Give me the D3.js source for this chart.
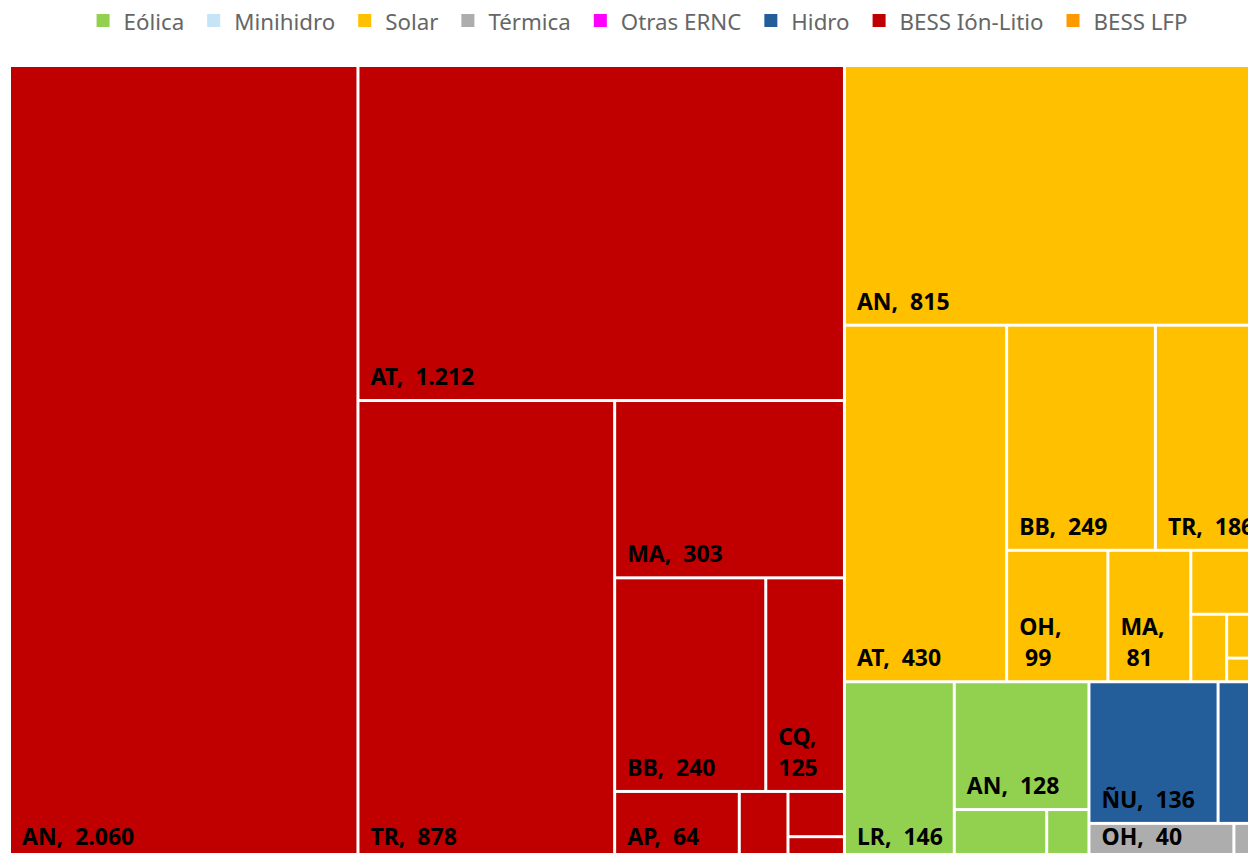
<!DOCTYPE html>
<html>
<head>
<meta charset="utf-8">
<script src="https://cdn.jsdelivr.net/npm/d3@7"></script>
<style>
  body { margin: 0; background: #fff; overflow: hidden; }
  svg { display: block; }
</style>
</head>
<body>
<svg id="chart" width="1248" height="853"></svg>
<script>
// legend: technologies and their colours
var technologies = ["Eólica", "Minihidro", "Solar", "Térmica", "Otras ERNC", "Hidro", "BESS Ión-Litio", "BESS LFP"];
var techColors = ["#92D050", "#C5E4F5", "#FFC000", "#ADADAD", "#FF00FF", "#235E9B", "#C00000", "#FF9900"];

// MW by region, one pair of arrays per technology
var ionRegions = ["AN", "AT", "TR", "MA", "BB", "CQ", "AP", "RM", "VA", "OH"];
var ionValues = [2060, 1212, 878, 303, 240, 125, 64, 25, 19, 10];
var solarRegions = ["AN", "AT", "BB", "TR", "OH", "MA", "RM", "CQ", "VA", "AP"];
var solarValues = [815, 430, 249, 186, 99, 81, 36, 18, 13, 7];
var eolicaRegions = ["LR", "AN", "BB", "AR"];
var eolicaValues = [146, 128, 35, 16];
var hidroRegions = ["ÑU", "BB"];
var hidroValues = [136, 51];
var termicaRegions = ["OH", "AN"];
var termicaValues = [40, 9];

var svg = d3.select("#chart");

var margins = { left: 11, top: 67 },
    width = 1254,
    height = 792;

var groups = [
    { name: "BESS Ión-Litio", regions: ionRegions, values: ionValues },
    { name: "Solar", regions: solarRegions, values: solarValues },
    { name: "Eólica", regions: eolicaRegions, values: eolicaValues },
    { name: "Hidro", regions: hidroRegions, values: hidroValues },
    { name: "Térmica", regions: termicaRegions, values: termicaValues }
];

var color = d3.scaleOrdinal().domain(technologies).range(techColors);
var fmt = d3.formatLocale({ decimal: ",", thousands: ".", grouping: [3], currency: ["$", ""] }).format(",d");

// squarified tiling that scores cells against a slightly tall target shape
var TALL = 1.291;
function tileTall(parent, x0, y0, x1, y1) {
    var nodes = parent.children, n = nodes.length, i0 = 0, value = parent.value;
    while (i0 < n) {
        var dx = x1 - x0, dy = y1 - y0;
        var across = dx <= dy;
        var i1 = i0, sum = 0, best = Infinity;
        while (i1 < n) {
            var s = sum + nodes[i1].value, worst = 0;
            for (var k = i0; k <= i1; k++) {
                var v = nodes[k].value, a;
                if (across) a = (dy * s / value) / (dx * v / s);
                else a = (dy * v / s) / (dx * s / value);
                worst = Math.max(worst, a / TALL, TALL / a);
            }
            if (worst > best) break;
            best = worst; sum = s; i1++;
        }
        var row = { value: sum, children: nodes.slice(i0, i1) };
        if (across) {
            var yk = y0 + dy * sum / value;
            d3.treemapDice(row, x0, y0, x1, yk);
            y0 = yk;
        } else {
            var xk = x0 + dx * sum / value;
            d3.treemapSlice(row, x0, y0, xk, y1);
            x0 = xk;
        }
        value -= sum;
        i0 = i1;
    }
}

var root = d3.hierarchy({
        children: groups.map(function(g) {
            return {
                name: g.name,
                children: g.regions.map(function(r, i) { return { name: r, value: g.values[i] }; })
            };
        })
    })
    .sum(function(d) { return d.value || 0; })
    .sort(function(a, b) { return b.value - a.value; });

d3.treemap()
    .tile(tileTall)
    .size([width, height])
    .paddingInner(3)(root);

var plot = svg.append("g")
    .attr("transform", "translate(" + margins.left + "," + margins.top + ")");

var cells = plot.selectAll("g.cell")
    .data(root.leaves())
    .enter()
    .append("g")
    .attr("class", "cell");

cells.append("rect")
    .attr("x", function(d) { return d.x0; })
    .attr("y", function(d) { return d.y0; })
    .attr("width", function(d) { return d.x1 - d.x0; })
    .attr("height", function(d) { return d.y1 - d.y0; })
    .attr("fill", function(d) { return color(d.parent.data.name); });

// labels at the bottom-left, wrapped on two lines when too narrow
var fontSize = 23, pad = 11, lineGap = 31, bottomGap = 14;
cells.each(function(d) {
    var g = d3.select(this),
        w = d.x1 - d.x0, h = d.y1 - d.y0;
    var label = g.append("text")
        .attr("x", d.x0 + pad)
        .attr("y", d.y1 - bottomGap)
        .style("font-family", "'Noto Sans', 'Open Sans', sans-serif")
        .style("font-weight", "bold")
        .style("font-size", fontSize + "px")
        .style("white-space", "pre")
        .attr("fill", "#000")
        .text(d.data.name + ",  " + fmt(d.value));
    if (label.node().getComputedTextLength() <= w - pad - 9 && h > 34) return;
    label.text(null);
    label.append("tspan").attr("x", d.x0 + pad).attr("dy", -lineGap).text(d.data.name + ",");
    label.append("tspan").attr("x", d.x0 + pad).attr("dy", lineGap).text(fmt(d.value).padStart(3, " "));
    var tooWide = label.selectAll("tspan").nodes().some(function(t) {
        return t.getComputedTextLength() > w - pad - 4;
    });
    if (tooWide || h < 66) label.remove();
});

// legend centred over the visual
var legend = svg.append("g").attr("class", "legend");
var items = legend.selectAll("g")
    .data(technologies)
    .enter()
    .append("g");

items.append("rect")
    .attr("width", 13)
    .attr("height", 13)
    .attr("y", 14)
    .attr("fill", function(d) { return color(d); });

items.append("text")
    .attr("x", 27)
    .attr("y", 30)
    .style("font-family", "'Noto Sans', 'Open Sans', sans-serif")
    .style("font-size", "22.3px")
    .attr("fill", "#666")
    .text(function(d) { return d; });

var xPos = 0;
items.each(function() {
    var it = d3.select(this);
    it.attr("transform", "translate(" + xPos + ",0)");
    xPos += 27 + it.select("text").node().getComputedTextLength() + 23;
});
var legendWidth = xPos - 23;
legend.attr("transform", "translate(" + (642 - legendWidth / 2) + ",0)");
</script>
</body>
</html>
